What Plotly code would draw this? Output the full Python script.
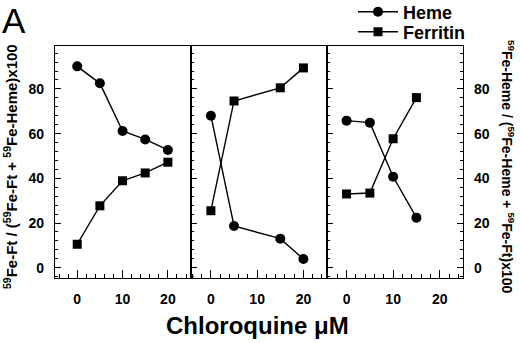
import plotly.graph_objects as go

# Data
p1_x_heme = [0, 5, 10, 15, 20]
p1_heme = [90.1, 82.5, 61.2, 57.4, 52.7]
p1_x_ft = [0, 5, 10, 15, 20]
p1_ft = [10.5, 27.7, 38.9, 42.4, 47.2]

p2_x_heme = [0, 5, 15, 20]
p2_heme = [68.0, 18.7, 13.0, 3.9]
p2_x_ft = [0, 5, 15, 20]
p2_ft = [25.5, 74.6, 80.5, 89.4]

p3_x_heme = [0, 5, 10, 15]
p3_heme = [65.8, 64.9, 40.7, 22.4]
p3_x_ft = [0, 5, 10, 15]
p3_ft = [33.0, 33.4, 57.7, 76.1]

x_ticks = [0, 10, 20]
y_ticks = [0, 20, 40, 60, 80]

FONT = "Liberation Sans, Arial, sans-serif"
fig = go.Figure()

panels = [
    (p1_x_heme, p1_heme, p1_x_ft, p1_ft, "x", "y"),
    (p2_x_heme, p2_heme, p2_x_ft, p2_ft, "x2", "y2"),
    (p3_x_heme, p3_heme, p3_x_ft, p3_ft, "x3", "y3"),
]
for i, (xh, yh, xf, yf, xa, ya) in enumerate(panels):
    fig.add_trace(go.Scatter(x=xh, y=yh, xaxis=xa, yaxis=ya, mode="lines+markers",
                             name="Heme", showlegend=(i == 0), legend="legend",
                             line=dict(color="black", width=1.4),
                             marker=dict(symbol="circle", size=10, color="black")))
    fig.add_trace(go.Scatter(x=xf, y=yf, xaxis=xa, yaxis=ya, mode="lines+markers",
                             name="Ferritin", showlegend=(i == 0), legend="legend2",
                             line=dict(color="black", width=1.4),
                             marker=dict(symbol="square", size=9, color="black")))

tickfont = dict(family=FONT, size=14, color="black", weight="bold")
xbase = dict(showline=True, linecolor="black", linewidth=1.2, mirror=True,
             ticks="inside", ticklen=8, tickwidth=1, tickcolor="black",
             tickvals=x_ticks, showgrid=False, zeroline=False, tickfont=tickfont,
             minor=dict(dtick=2, ticks="inside", ticklen=4, tickcolor="black", showgrid=False),
             ticklabelstandoff=8)
ybase = dict(showline=True, linecolor="black", linewidth=1.2, mirror=True,
             ticks="inside", ticklen=6, tickwidth=1, tickcolor="black",
             tickvals=y_ticks, showgrid=False, zeroline=False, tickfont=tickfont,
             range=[-4.6, 99.2],
             minor=dict(dtick=4, ticks="inside", ticklen=3, tickcolor="black", showgrid=False),
             ticklabelstandoff=7)

PW, PH, L, T = 408, 232, 55, 46


def px(xp):
    return (xp - L) / PW


def py(yp):
    return (T + PH - yp) / PH


legfont = dict(family=FONT, size=18, color="black", weight="bold")
fig.update_layout(
    width=520, height=343,
    margin=dict(l=55, r=57, t=46, b=65, autoexpand=False),
    paper_bgcolor="white", plot_bgcolor="white",
    xaxis=dict(xbase, domain=[0, 1/3], range=[-4.9, 25.1], anchor="y"),
    xaxis2=dict(xbase, domain=[1/3, 2/3], range=[-4.3, 25.1], anchor="y2"),
    xaxis3=dict(xbase, domain=[2/3, 1], range=[-4.2, 25.0], anchor="y3"),
    yaxis=dict(ybase, anchor="x"),
    yaxis2=dict(ybase, anchor="x2", showticklabels=False),
    yaxis3=dict(ybase, anchor="x3", side="right", mirror="ticks"),
    showlegend=True,
    legend=dict(x=px(353), y=py(12), xanchor="left", yanchor="middle",
                font=legfont, bgcolor="rgba(0,0,0,0)", itemwidth=40),
    legend2=dict(x=px(353), y=py(32), xanchor="left", yanchor="middle",
                 font=legfont, bgcolor="rgba(0,0,0,0)", itemwidth=40),
    annotations=[
        dict(text="A", x=px(14), y=py(21), xref="paper", yref="paper", showarrow=False,
             xanchor="center", yanchor="middle",
             font=dict(family=FONT, size=35, color="black")),
        dict(text="Chloroquine μM", x=px(257), y=py(325), xref="paper", yref="paper",
             xanchor="center", yanchor="middle", showarrow=False,
             font=dict(family=FONT, size=24, color="black", weight="bold")),
        dict(text="<sup>59</sup>Fe-Ft / (<sup>59</sup>Fe-Ft + <sup>59</sup>Fe-Heme)x100",
             textangle=-90, x=px(10), y=py(167), xref="paper", yref="paper",
             xanchor="center", yanchor="middle", showarrow=False,
             font=dict(family=FONT, size=15, color="black", weight="bold")),
        dict(text="<sup>59</sup>Fe-Heme / (<sup>59</sup>Fe-Heme + <sup>59</sup>Fe-Ft)x100",
             textangle=90, x=px(508), y=py(167), xref="paper", yref="paper",
             xanchor="center", yanchor="middle", showarrow=False,
             font=dict(family=FONT, size=14, color="black", weight="bold")),
    ],
)

fig.write_html("out.html", config={"displayModeBar": False},
               post_script="document.body.style.margin='0';")
